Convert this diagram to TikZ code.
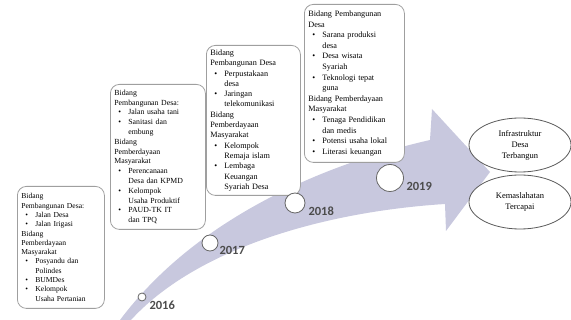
\documentclass[tikz,border=0pt]{standalone}
\usepackage{fontspec}
\setmainfont{Liberation Serif}
\newfontfamily\yearfont{Carlito}
\usepackage{xcolor}
\usetikzlibrary{shapes.geometric}
\definecolor{bandcol}{RGB}{200,200,222}
\newcommand{\itm}{\hspace*{4pt}\makebox[10pt][l]{\textbullet}}
\newcommand{\cnt}{\hspace*{14pt}}

\begin{document}
\begin{tikzpicture}[x=1pt,y=-1pt,
    yearbox/.style={draw=gray!75,line width=0.8pt,fill=white,rounded corners=9pt,anchor=north west,align=left,inner xsep=4pt,inner ysep=3pt},
    yeardot/.style={circle,draw=gray!80!black,line width=0.8pt,fill=white,inner sep=0pt},
    yearlabel/.style={anchor=west,font=\yearfont\bfseries\fontsize{12.5}{12.5}\selectfont,text=black!70},
    goal/.style={ellipse,draw=gray!70!black,line width=0.8pt,fill=white,align=center,inner sep=0pt,minimum width=102pt,minimum height=54pt,font=\fontsize{8.5}{11}\selectfont}]
    \useasboundingbox (0,0) rectangle (571,320);
    % ===== Growth arrow =====
    \fill[bandcol] (120,320) .. controls (195,220) and (320,165) .. (430,140) -- (432,109) -- (490,172)
      -- (446,231) -- (445,204) .. controls (320,212) and (195,250) .. (131,320) -- cycle;
    % ===== 2016 (LEFT) =====
    \node[yearbox,text width=79pt,minimum height=122pt,font=\fontsize{7.6}{9.3}\selectfont] (b2016) at (17,186) {Bidang\\
      Pembangunan Desa:\\
      \itm Jalan Desa\\
      \itm Jalan Irigasi\\
      Bidang\\
      Pemberdayaan\\
      Masyarakat\\
      \itm Posyandu dan\\
      \cnt Polindes\\
      \itm BUMDes\\
      \itm Kelompok\\
      \cnt Usaha Pertanian};
    \node[yeardot,minimum size=8pt] (d2016) at (142,297) {};
    \node[yearlabel] (y2016) at (146,305) {2016};
    % ===== 2017 =====
    \node[yearbox,text width=87pt,minimum height=145pt,font=\fontsize{7.8}{9.8}\selectfont] (b2017) at (110,84) {Bidang\\
      Pembangunan Desa:\\
      \itm Jalan usaha tani\\
      \itm Sanitasi dan\\
      \cnt embung\\
      Bidang\\
      Pemberdayaan\\
      Masyarakat\\
      \itm Perencanaan\\
      \cnt Desa dan KPMD\\
      \itm Kelompok\\
      \cnt Usaha Produktif\\
      \itm PAUD-TK IT\\
      \cnt dan TPQ};
    \node[yeardot,minimum size=16pt] (d2017) at (210,243) {};
    \node[yearlabel] (y2017) at (216,250) {2017};
    % ===== 2018 =====
    \node[yearbox,text width=86pt,minimum height=150pt,font=\fontsize{8.2}{10.3}\selectfont] (b2018) at (206,45) {Bidang\\
      Pembangunan Desa\\
      \itm Perpustakaan\\
      \cnt desa\\
      \itm Jaringan\\
      \cnt telekomunikasi\\
      Bidang\\
      Pemberdayaan\\
      Masyarakat\\
      \itm Kelompok\\
      \cnt Remaja islam\\
      \itm Lembaga\\
      \cnt Keuangan\\
      \cnt Syariah Desa};
    \node[yeardot,minimum size=20pt] (d2018) at (295,203) {};
    \node[yearlabel] (y2018) at (305,211) {2018};
    % ===== 2019 (RIGHT) =====
    \node[yearbox,text width=92pt,minimum height=158pt,font=\fontsize{8.2}{10.6}\selectfont] (b2019) at (304,4) {Bidang Pembangunan\\
      Desa\\
      \itm Sarana produksi\\
      \cnt desa\\
      \itm Desa wisata\\
      \cnt Syariah\\
      \itm Teknologi tepat\\
      \cnt guna\\
      Bidang Pemberdayaan\\
      Masyarakat\\
      \itm Tenaga Pendidikan\\
      \cnt dan medis\\
      \itm Potensi usaha lokal\\
      \itm Literasi keuangan};
    \node[yeardot,minimum size=27pt] (d2019) at (390,178) {};
    \node[yearlabel] (y2019) at (403,186) {2019};
    % ===== Outcomes =====
    \node[goal] (infra) at (520,145) {Infrastruktur\\Desa\\Terbangun};
    \node[goal] (maslahat) at (520,202) {Kemaslahatan\\Tercapai};
  \end{tikzpicture}
\end{document}
